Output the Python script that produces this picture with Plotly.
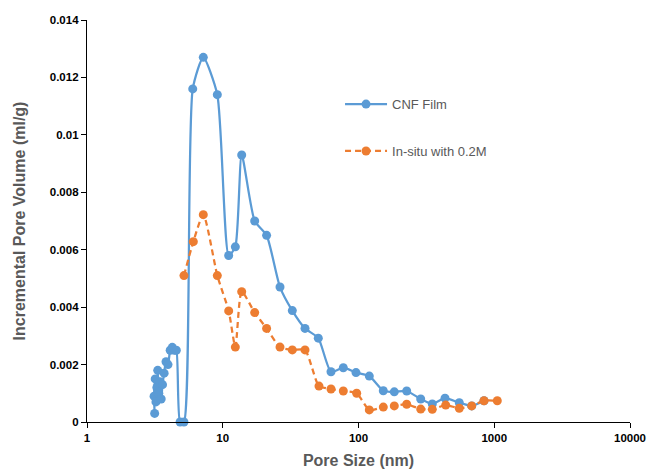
import plotly.graph_objects as go

# ---- data ----
cnf_size = [3.15, 3.12, 3.18, 3.22, 3.27, 3.32, 3.38, 3.45, 3.52, 3.6, 3.7, 3.82,
            3.95, 4.1, 4.25, 4.4, 4.55, 4.85, 5.18, 6.01, 7.19, 9.12, 11.06, 12.38,
            13.79, 17.19, 21.04, 26.41, 32.54, 40.36, 50.57, 62.72, 77.27, 95.85,
            120.1, 152.3, 183.5, 226.5, 287.2, 349.6, 433.8, 552.7, 682.3, 840.5]
cnf_vol = [0.0003, 0.0009, 0.0015, 0.0007, 0.0012, 0.0018, 0.0010, 0.0014, 0.0008,
           0.0013, 0.0017, 0.0021, 0.0020, 0.0025, 0.0026, 0.0025, 0.0025, 0.0, 0.0,
           0.0116, 0.0127, 0.0114, 0.0058, 0.0061, 0.0093, 0.0070, 0.0065, 0.0047,
           0.00388, 0.00326, 0.00292, 0.00175, 0.00189, 0.00172, 0.0016, 0.00109,
           0.00105, 0.00108, 0.0008, 0.00063, 0.00083, 0.00067, 0.00056, 0.00074]

insitu_size = [5.18, 6.07, 7.19, 9.12, 11.06, 12.38, 13.79, 17.19, 21.04, 26.41,
               32.54, 40.36, 51.17, 62.72, 77.27, 96.98, 120.1, 152.3, 183.5, 226.5,
               287.2, 349.6, 438.9, 552.7, 682.3, 840.5, 1053]
insitu_vol = [0.0051, 0.00628, 0.00722, 0.0051, 0.00387, 0.00261, 0.00454, 0.00381,
              0.00326, 0.00261, 0.00251, 0.00251, 0.00125, 0.00115, 0.00108, 0.0010,
              0.00042, 0.00052, 0.00056, 0.00062, 0.00045, 0.00044, 0.00059, 0.00048,
              0.00056, 0.00074, 0.00074]

series_names = ["CNF Film", "In-situ with 0.2M"]

x_tick_vals = [1, 10, 100, 1000, 10000]
x_tick_labels = ["1", "10", "100", "1000", "10000"]
y_tick_vals = [0, 0.002, 0.004, 0.006, 0.008, 0.01, 0.012, 0.014]
y_tick_labels = ["0", "0.002", "0.004", "0.006", "0.008", "0.01", "0.012", "0.014"]

BLUE = "#5B9BD5"
ORANGE = "#ED7D31"
FONT = "Liberation Sans"

fig = go.Figure()
fig.add_trace(go.Scatter(
    x=cnf_size, y=cnf_vol, name=series_names[0], mode="lines+markers",
    line=dict(color=BLUE, width=2.25, shape="spline", smoothing=0.6),
    marker=dict(color=BLUE, size=9), legendgroup="a", cliponaxis=False))
fig.add_trace(go.Scatter(
    x=insitu_size, y=insitu_vol, name=series_names[1], mode="lines+markers",
    line=dict(color=ORANGE, width=2.25, dash="6px,4px", shape="spline", smoothing=0.6),
    marker=dict(color=ORANGE, size=9), legendgroup="b", cliponaxis=False))

fig.update_layout(
    width=651, height=470,
    margin=dict(l=87, r=21, t=20, b=48),
    paper_bgcolor="white", plot_bgcolor="white",
    font=dict(family=FONT, color="#000000"),
    showlegend=True,
    legend=dict(x=0.466, y=0.828, xanchor="left", yanchor="top",
                bgcolor="rgba(0,0,0,0)", font=dict(size=13, color="#595959", family=FONT),
                tracegroupgap=27, itemwidth=42),
)
fig.update_xaxes(
    type="log", range=[0, 4], tickvals=x_tick_vals, ticktext=x_tick_labels,
    showline=True, linecolor="#000000", linewidth=1.3, ticks="outside", ticklen=5,
    tickcolor="#000000", showgrid=False, zeroline=False, automargin=False,
    tickfont=dict(size=11.5, family=FONT, color="#000000", weight="bold"),
    title=dict(text="Pore Size (nm)", standoff=11,
               font=dict(size=16, family=FONT, color="#595959", weight="bold")))
fig.update_yaxes(
    range=[0, 0.014], tickvals=y_tick_vals, ticktext=y_tick_labels,
    showline=True, linecolor="#000000", linewidth=1.3, ticks="outside", ticklen=5,
    tickcolor="#000000", showgrid=False, zeroline=False, automargin=False,
    tickfont=dict(size=11.5, family=FONT, color="#000000", weight="bold"),
    title=dict(text="Incremental Pore Volume (ml/g)", standoff=20,
               font=dict(size=16, family=FONT, color="#595959", weight="bold")))

fig.write_html("out.html", config={"displayModeBar": False},
               post_script="document.body.style.margin='0';")
